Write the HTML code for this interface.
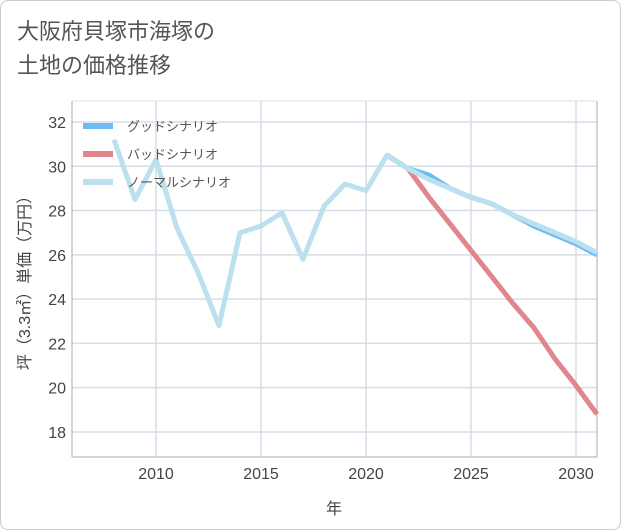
<!DOCTYPE html>
<html><head><meta charset="utf-8"><style>
body{margin:0;background:#fff;font-family:"Liberation Sans","Noto Sans CJK JP",sans-serif;}
#wrap{position:relative;width:619px;height:528px;border:1px solid #ccc;border-radius:8px;overflow:hidden;background:#fff}
#title{position:absolute;left:16px;top:14px;font-size:22px;line-height:34px;color:#555;}
</style></head><body>
<div id="wrap">
<div id="title">大阪府貝塚市海塚の<br>土地の価格推移</div>
<svg id="chart" width="621" height="530" style="position:absolute;left:-1px;top:-1px"></svg>
</div>
<script>
const years=[2008,2009,2010,2011,2012,2013,2014,2015,2016,2017,2018,2019,2020,2021,2022,2023,2024,2025,2026,2027,2028,2029,2030,2031];
const normal=[31.2,28.5,30.3,27.2,25.2,22.8,27.0,27.3,27.9,25.8,28.2,29.2,28.9,30.5,29.9,29.4,29.0,28.6,28.3,27.8,27.4,27.0,26.6,26.1];
const goodYears=[2021,2022,2023,2024,2025,2026,2027,2028,2029,2030,2031];
const good=[30.5,29.9,29.6,29.0,28.6,28.3,27.8,27.3,26.9,26.5,26.0];
const bad=[30.5,29.9,28.6,27.4,26.2,25.0,23.8,22.7,21.3,20.1,18.8];
const xTicks=[2010,2015,2020,2025,2030];
const yTicks=[18,20,22,24,26,28,30,32];
const L=72,R=597,T=101,B=457;
const x=v=>156+(v-2010)*21;
const y=v=>122+(32-v)*22.14;
const NS="http://www.w3.org/2000/svg";
const svg=document.getElementById('chart');
function mk(t,a,p){const e=document.createElementNS(NS,t);for(const k in a)e.setAttribute(k,a[k]);(p||svg).appendChild(e);return e;}
const grid=mk('g',{});


xTicks.forEach(v=>{mk('line',{x1:x(v),x2:x(v),y1:T,y2:B,stroke:'#d5dde8','stroke-width':1.5},grid);
 const t=mk('text',{x:x(v),y:479,'text-anchor':'middle','font-size':16,fill:'#444'});t.textContent=v;
 
 });
yTicks.forEach(v=>{mk('line',{x1:L,x2:R,y1:y(v),y2:y(v),stroke:'#d5dde8','stroke-width':1.5},grid);
 const t=mk('text',{x:66,y:y(v)+6,'text-anchor':'end','font-size':16,fill:'#444'});t.textContent=v;
 
 });
mk('line',{x1:L,x2:L,y1:T,y2:B,stroke:'#aab','stroke-width':1});
mk('line',{x1:L,x2:R,y1:B,y2:B,stroke:'#aab','stroke-width':1});
mk('line',{x1:R,x2:R,y1:T,y2:B,stroke:'#aab','stroke-width':1});
mk('line',{x1:L,x2:R,y1:T,y2:T,stroke:'#dde','stroke-width':1});
function line(xs,vs,c,w,name){const p=mk('polyline',{points:xs.map((v,i)=>x(v)+','+y(vs[i])).join(' '),fill:'none',stroke:c,'stroke-width':w,'stroke-linejoin':'round'});
 
 }
line(goodYears,bad,'#e0868c',5,'bad-scenario-line');
line(goodYears,good,'#6bbcf2',5,'good-scenario-line');
line(years,normal,'#bde0ee',5,'normal-scenario-line');
const leg=[['グッドシナリオ','#6bbcf2'],['バッドシナリオ','#e0868c'],['ノーマルシナリオ','#bde0ee']];
leg.forEach((l,i)=>{const g=mk('g',{});
 
 
 mk('rect',{x:83,y:123+i*28,width:30,height:6,fill:l[1]},g);
 const t=mk('text',{x:127,y:131+i*28,'font-size':13,fill:'#555'},g);t.textContent=l[0];});
const xt=mk('text',{x:334,y:514,'text-anchor':'middle','font-size':16,fill:'#444'});xt.textContent='年';


const yt=mk('text',{x:0,y:0,'text-anchor':'middle','font-size':16,fill:'#444',transform:'translate(30,279) rotate(-90)'});yt.textContent='坪（3.3㎡）単価（万円）';


</script>
</body></html>
